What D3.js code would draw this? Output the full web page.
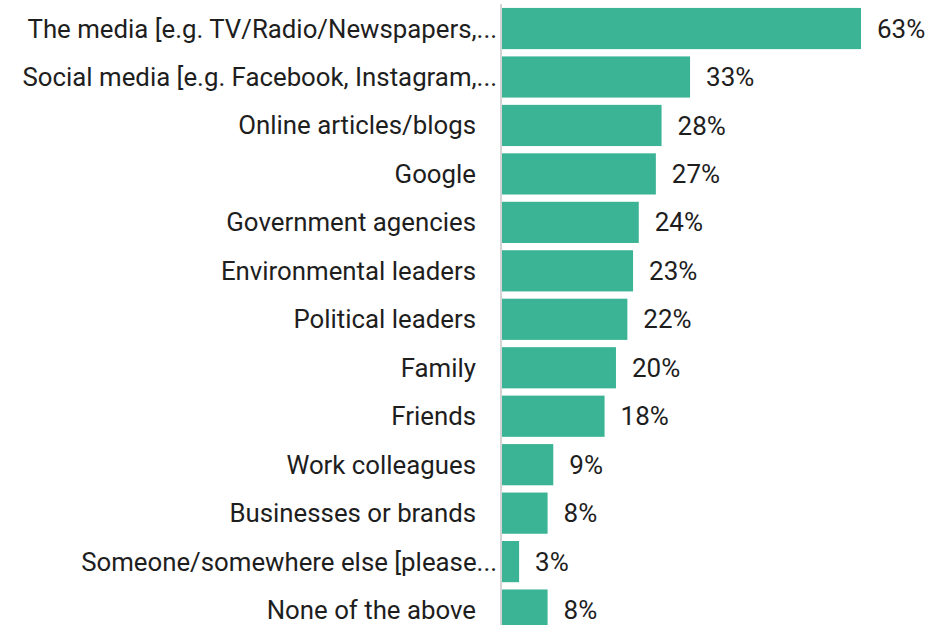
<!DOCTYPE html>
<html>
<head>
<meta charset="utf-8">
<script src="https://cdn.jsdelivr.net/npm/d3@7"></script>
<style>
  html, body { margin: 0; padding: 0; background: #fff; }
  svg { display: block; }
</style>
</head>
<body>
<svg id="chart" width="931" height="625"></svg>
<script>
// Sources of information, share of respondents (%)
const categories = [
  "The media [e.g. TV/Radio/Newspapers,...",
  "Social media [e.g. Facebook, Instagram,...",
  "Online articles/blogs",
  "Google",
  "Government agencies",
  "Environmental leaders",
  "Political leaders",
  "Family",
  "Friends",
  "Work colleagues",
  "Businesses or brands",
  "Someone/somewhere else [please...",
  "None of the above"
];
const values = [63, 33, 28, 27, 24, 23, 22, 20, 18, 9, 8, 3, 8];

const svg = d3.select("#chart");
const axisX = 501;
const barStart = 502;

const x = d3.scaleLinear().domain([0, 63]).range([barStart, 861]);
const y = d3.scaleBand()
  .domain(categories)
  .range([4.3, 634.3])
  .paddingInner(0.15)
  .paddingOuter(0.075);

const rows = categories.map((c, i) => ({ c, v: values[i] }));

// bars
svg.append("g").selectAll("rect")
  .data(rows).join("rect")
  .attr("x", x(0))
  .attr("y", d => y(d.c))
  .attr("width", d => x(d.v) - x(0))
  .attr("height", y.bandwidth())
  .attr("fill", "#3bb395");

// vertical axis line
svg.append("line")
  .attr("x1", axisX).attr("x2", axisX)
  .attr("y1", 4).attr("y2", 625)
  .attr("stroke", "#d4d4d4")
  .attr("stroke-width", 2);

// category labels (truncated labels run closer to the axis)
svg.append("g").selectAll("text")
  .data(rows).join("text")
  .attr("x", d => d.c.endsWith("...") ? 497 : 476)
  .attr("y", d => y(d.c) + y.bandwidth() / 2)
  .attr("dy", "0.35em")
  .attr("text-anchor", "end")
  .attr("font-family", "Roboto, sans-serif")
  .attr("font-size", 25.8)
  .attr("fill", "#1e1e1e")
  .text(d => d.c);

// value labels
svg.append("g").selectAll("text")
  .data(rows).join("text")
  .attr("x", d => x(d.v) + 16)
  .attr("y", d => y(d.c) + y.bandwidth() / 2)
  .attr("dy", "0.35em")
  .attr("font-family", "Roboto, sans-serif")
  .attr("font-size", 26)
  .attr("fill", "#1e1e1e")
  .text(d => d.v + "%");
</script>
</body>
</html>
